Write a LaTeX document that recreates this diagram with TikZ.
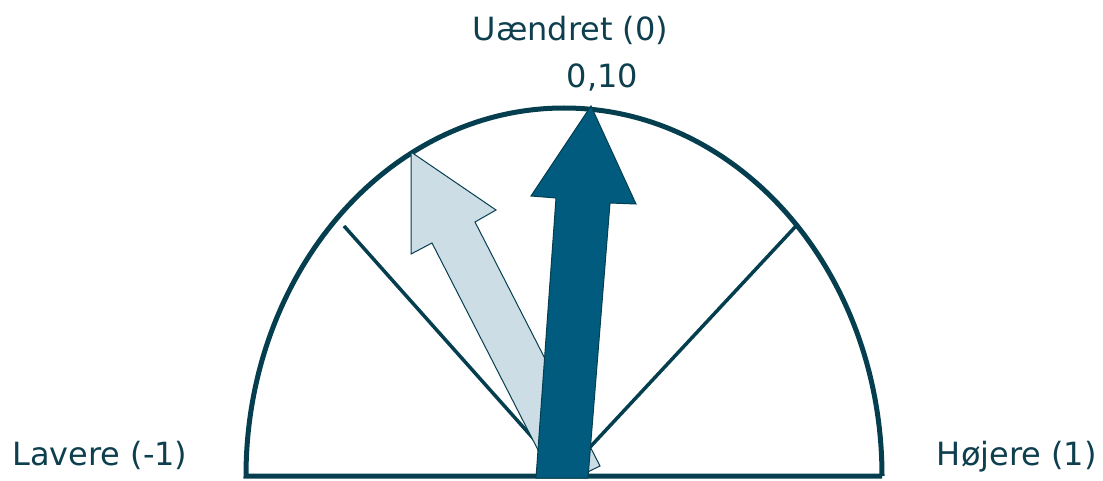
\documentclass[tikz,border=0pt]{standalone}
\usepackage{fontspec}
\setmainfont{DejaVu Sans}
\definecolor{linec}{HTML}{053F4F}
\definecolor{textc}{HTML}{0E3F4E}
\definecolor{darkarrow}{HTML}{005B7E}
\definecolor{lightarrow}{HTML}{CCDDE6}
\begin{document}
\begin{tikzpicture}[x=1pt,y=-1pt,
  lbl/.style={text=textc,inner sep=0pt,anchor=base,font=\fontsize{32}{38}\selectfont},
  rim/.style={draw=linec,line width=5pt},
  ray/.style={draw=linec,line width=3.5pt},
  arrowbody/.style={draw=linec,line width=1pt,line join=miter}]
\useasboundingbox (0,0) rectangle (1103,481);
\coordinate (c) at (565,474);
\coordinate (lend) at (344,226);
\coordinate (rend) at (796,226);
\coordinate (bl) at (246,476);
\coordinate (br) at (882,476);
\draw[ray] (c) -- (lend);
\draw[ray] (c) -- (rend);
\draw[rim] (br) -- (bl) arc[start angle=180,end angle=360,x radius=318,y radius=368];
% light arrow
\begin{scope}
\clip (0,0) rectangle (1103,476);
\fill[lightarrow,arrowbody] (411,152) -- (496,210) -- (475,222) -- (600,466) -- (557,487) -- (432,243) -- (411,254) -- cycle;
\end{scope}
% dark arrow
\fill[darkarrow,arrowbody] (591,106) -- (636,204) -- (610,203) -- (588,478) -- (536,478) -- (556,198) -- (531,196) -- cycle;
\node[lbl] (top) at (570.5,41) {Uændret (0)};
\node[lbl] (val) at (602.5,88) {0,10};
\node[lbl,anchor=base west] (left) at (12,465) {Lavere (-1)};
\node[lbl,anchor=base east] (right) at (1097,465) {Højere (1)};
\end{tikzpicture}
\end{document}
